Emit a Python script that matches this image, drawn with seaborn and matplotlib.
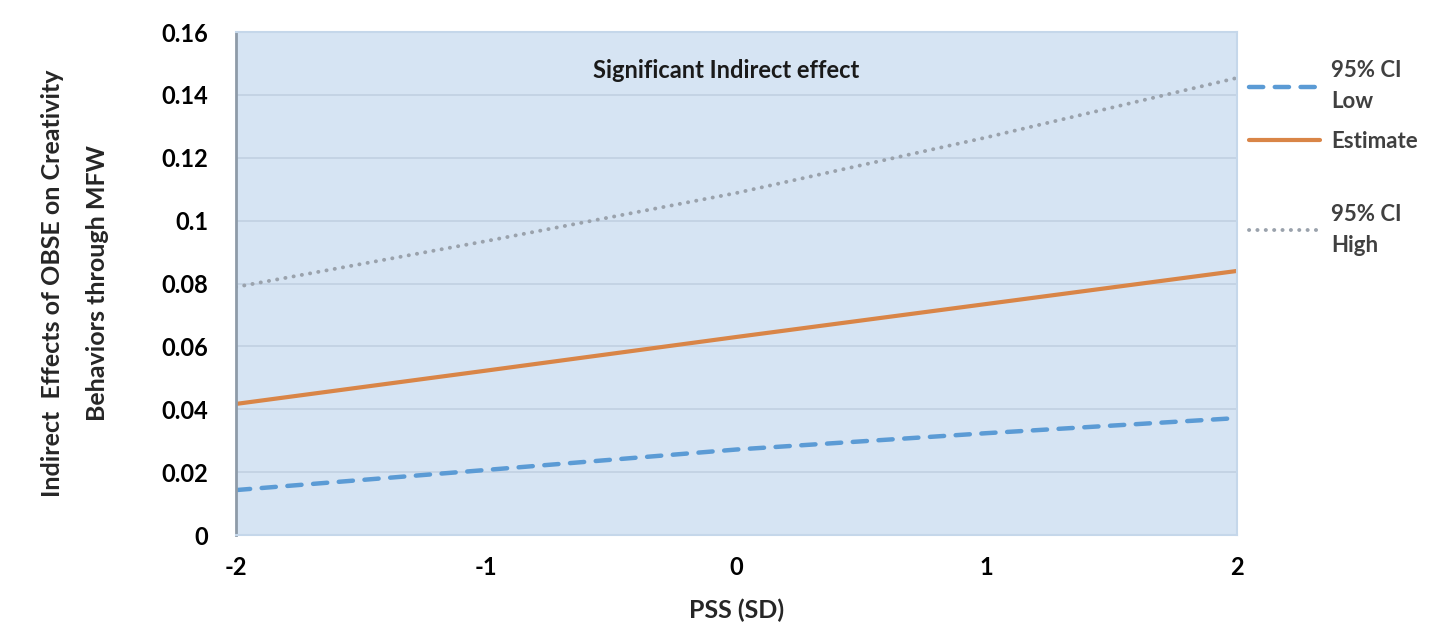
import matplotlib
matplotlib.use("Agg")
import matplotlib.pyplot as plt
import seaborn as sns
import pandas as pd

pss = [-2, -1, 0, 1, 2]
ci_low = [0.0143, 0.0207, 0.0272, 0.0324, 0.0372]
estimate = [0.0417, 0.0523, 0.0630, 0.0735, 0.0840]
ci_high = [0.0789, 0.0935, 0.1088, 0.1265, 0.1454]
series_names = ["95% CI\nLow", "Estimate", "95% CI\nHigh"]
yticks = [0, 0.02, 0.04, 0.06, 0.08, 0.1, 0.12, 0.14, 0.16]
ytick_labels = ["0", "0.02", "0.04", "0.06", "0.08", "0.1", "0.12", "0.14", "0.16"]
xticks = [-2, -1, 0, 1, 2]
xtick_labels = ["-2", "-1", "0", "1", "2"]

sns.set_theme(style="white")
plt.rcParams['font.family'] = ['Lato', 'DejaVu Sans']
plt.rcParams['axes.unicode_minus'] = False

fig = plt.figure(figsize=(14.45, 6.29), dpi=100)
ax = fig.add_axes([0.1633, 0.1494, 0.6927, 0.7997])
ax.set_facecolor("#D6E4F3")

styles = [
    dict(color="#5B9BD5", linestyle=(0, (3.2, 2.6)), linewidth=3.2, dash_capstyle="round"),
    dict(color="#D98547", linestyle="-", linewidth=3.0),
    dict(color="#9AA2AC", linestyle=(0, (0.05, 2.1)), linewidth=2.8, dash_capstyle="round"),
]
for vals, name, st in zip([ci_low, estimate, ci_high], series_names, styles):
    df = pd.DataFrame({"x": pss, "y": vals})
    sns.lineplot(data=df, x="x", y="y", ax=ax, label=name, **st)

ax.set_xlim(-2, 2)
ax.set_ylim(0, 0.16)
ax.set_yticks(yticks)
ax.set_yticklabels(ytick_labels)
ax.set_xticks(xticks)
ax.set_xticklabels(xtick_labels)
ax.yaxis.grid(True, color="#C3D2E3", linewidth=1.3)
ax.xaxis.grid(False)
for s in ["top", "right", "bottom"]:
    ax.spines[s].set_color("#C5D7EA")
    ax.spines[s].set_linewidth(1.5)
ax.spines["left"].set_color("#8E9BA8")
ax.spines["left"].set_linewidth(2)
ax.tick_params(axis="y", length=0, pad=20, labelsize=17, labelcolor="black")
ax.tick_params(axis="x", length=0, pad=15, labelsize=17, labelcolor="black")
for lbl in ax.get_xticklabels() + ax.get_yticklabels():
    lbl.set_fontweight("bold")

ax.set_xlabel("PSS (SD)", fontsize=18, fontweight="bold", labelpad=14)
ax.set_ylabel("Indirect  Effects of OBSE on Creativity\nBehaviors through MFW",
              fontsize=18, fontweight="bold", labelpad=38, linespacing=2.15)

ax.text(-0.04, 0.1513, "Significant Indirect effect", ha="center", va="top",
        fontsize=17, fontweight="bold", color="#1a1a1a")

handles, labels = ax.get_legend_handles_labels()
leg_kw = dict(frameon=False, fontsize=16, handlelength=3.2, handletextpad=0.5,
              borderaxespad=0, borderpad=0)


def style_legend(leg):
    for t in leg.get_texts():
        t.set_fontweight("bold")
        t.set_color("#404040")
        t.set_linespacing(1.6)
        t.set_multialignment("left")


leg1 = ax.legend(handles[:2], labels[:2], loc="upper left",
                 bbox_to_anchor=(1.012, 0.945), labelspacing=0.85, **leg_kw)
style_legend(leg1)
ax.add_artist(leg1)
leg2 = ax.legend(handles[2:], labels[2:], loc="upper left",
                 bbox_to_anchor=(1.012, 0.659), **leg_kw)
style_legend(leg2)

fig.savefig("out.png", dpi=100, facecolor="white")
